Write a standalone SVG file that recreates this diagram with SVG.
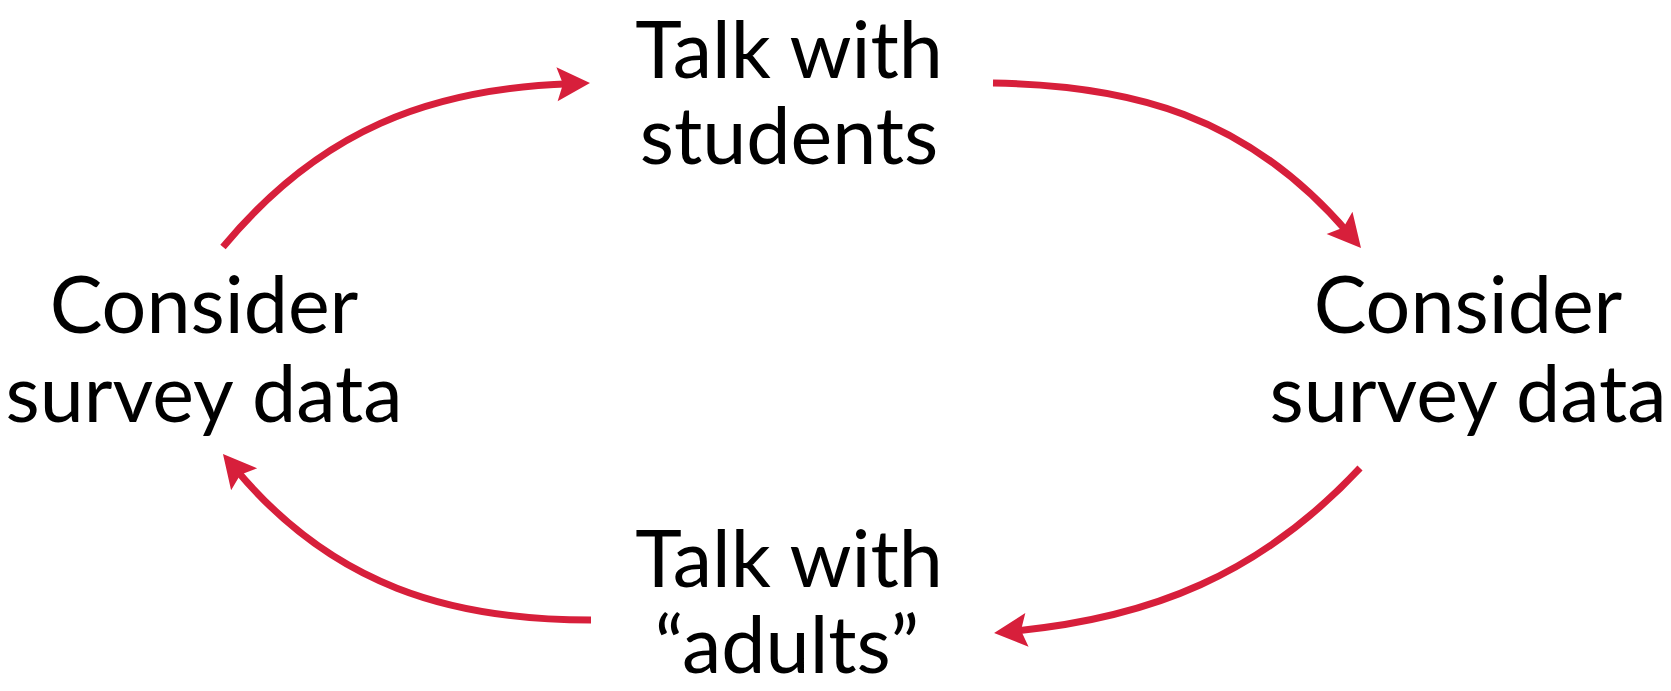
<svg xmlns="http://www.w3.org/2000/svg" width="1671" height="691" viewBox="0 0 1671 691">
  <defs>
    <style>
      .lbl { font-family: "Lato", "Open Sans", "Liberation Sans", sans-serif; font-size: 79px; fill: #000; text-anchor: middle; }
      .conn { fill: none; stroke: #D71F3B; stroke-width: 7; marker-end: url(#head); }
    </style>
    <marker id="head" markerUnits="userSpaceOnUse" orient="auto" refX="0" refY="0" markerWidth="40" markerHeight="40" overflow="visible">
      <path d="M20,0 L-13,-17 L-7,0 L-13,17 Z" fill="#D71F3B"/>
    </marker>
  </defs>
  <rect width="1671" height="691" fill="#fff"/>
  <g id="connectors">
    <path class="conn" d="M223,247 C320,130 430,88.7 570,83.7"/>
    <path class="conn" d="M993,83 C1130,85 1247,114.8 1348,232.8"/>
    <path class="conn" d="M1360,468 C1260,575 1150,618.1 1014,631.1"/>
    <path class="conn" d="M591,620 C450,620 332.8,585.3 235.8,469.3"/>
  </g>
  <g id="node-top">
    <text class="lbl" x="789" y="78">Talk with</text>
    <text class="lbl" x="789" y="164">students</text>
  </g>
  <g id="node-right">
    <text class="lbl" x="1468" y="333">Consider</text>
    <text class="lbl" x="1468" y="422">survey data</text>
  </g>
  <g id="node-bottom">
    <text class="lbl" x="789" y="587">Talk with</text>
    <text class="lbl" x="787" y="673">“adults”</text>
  </g>
  <g id="node-left">
    <text class="lbl" x="204" y="333">Consider</text>
    <text class="lbl" x="204" y="422">survey data</text>
  </g>
</svg>
